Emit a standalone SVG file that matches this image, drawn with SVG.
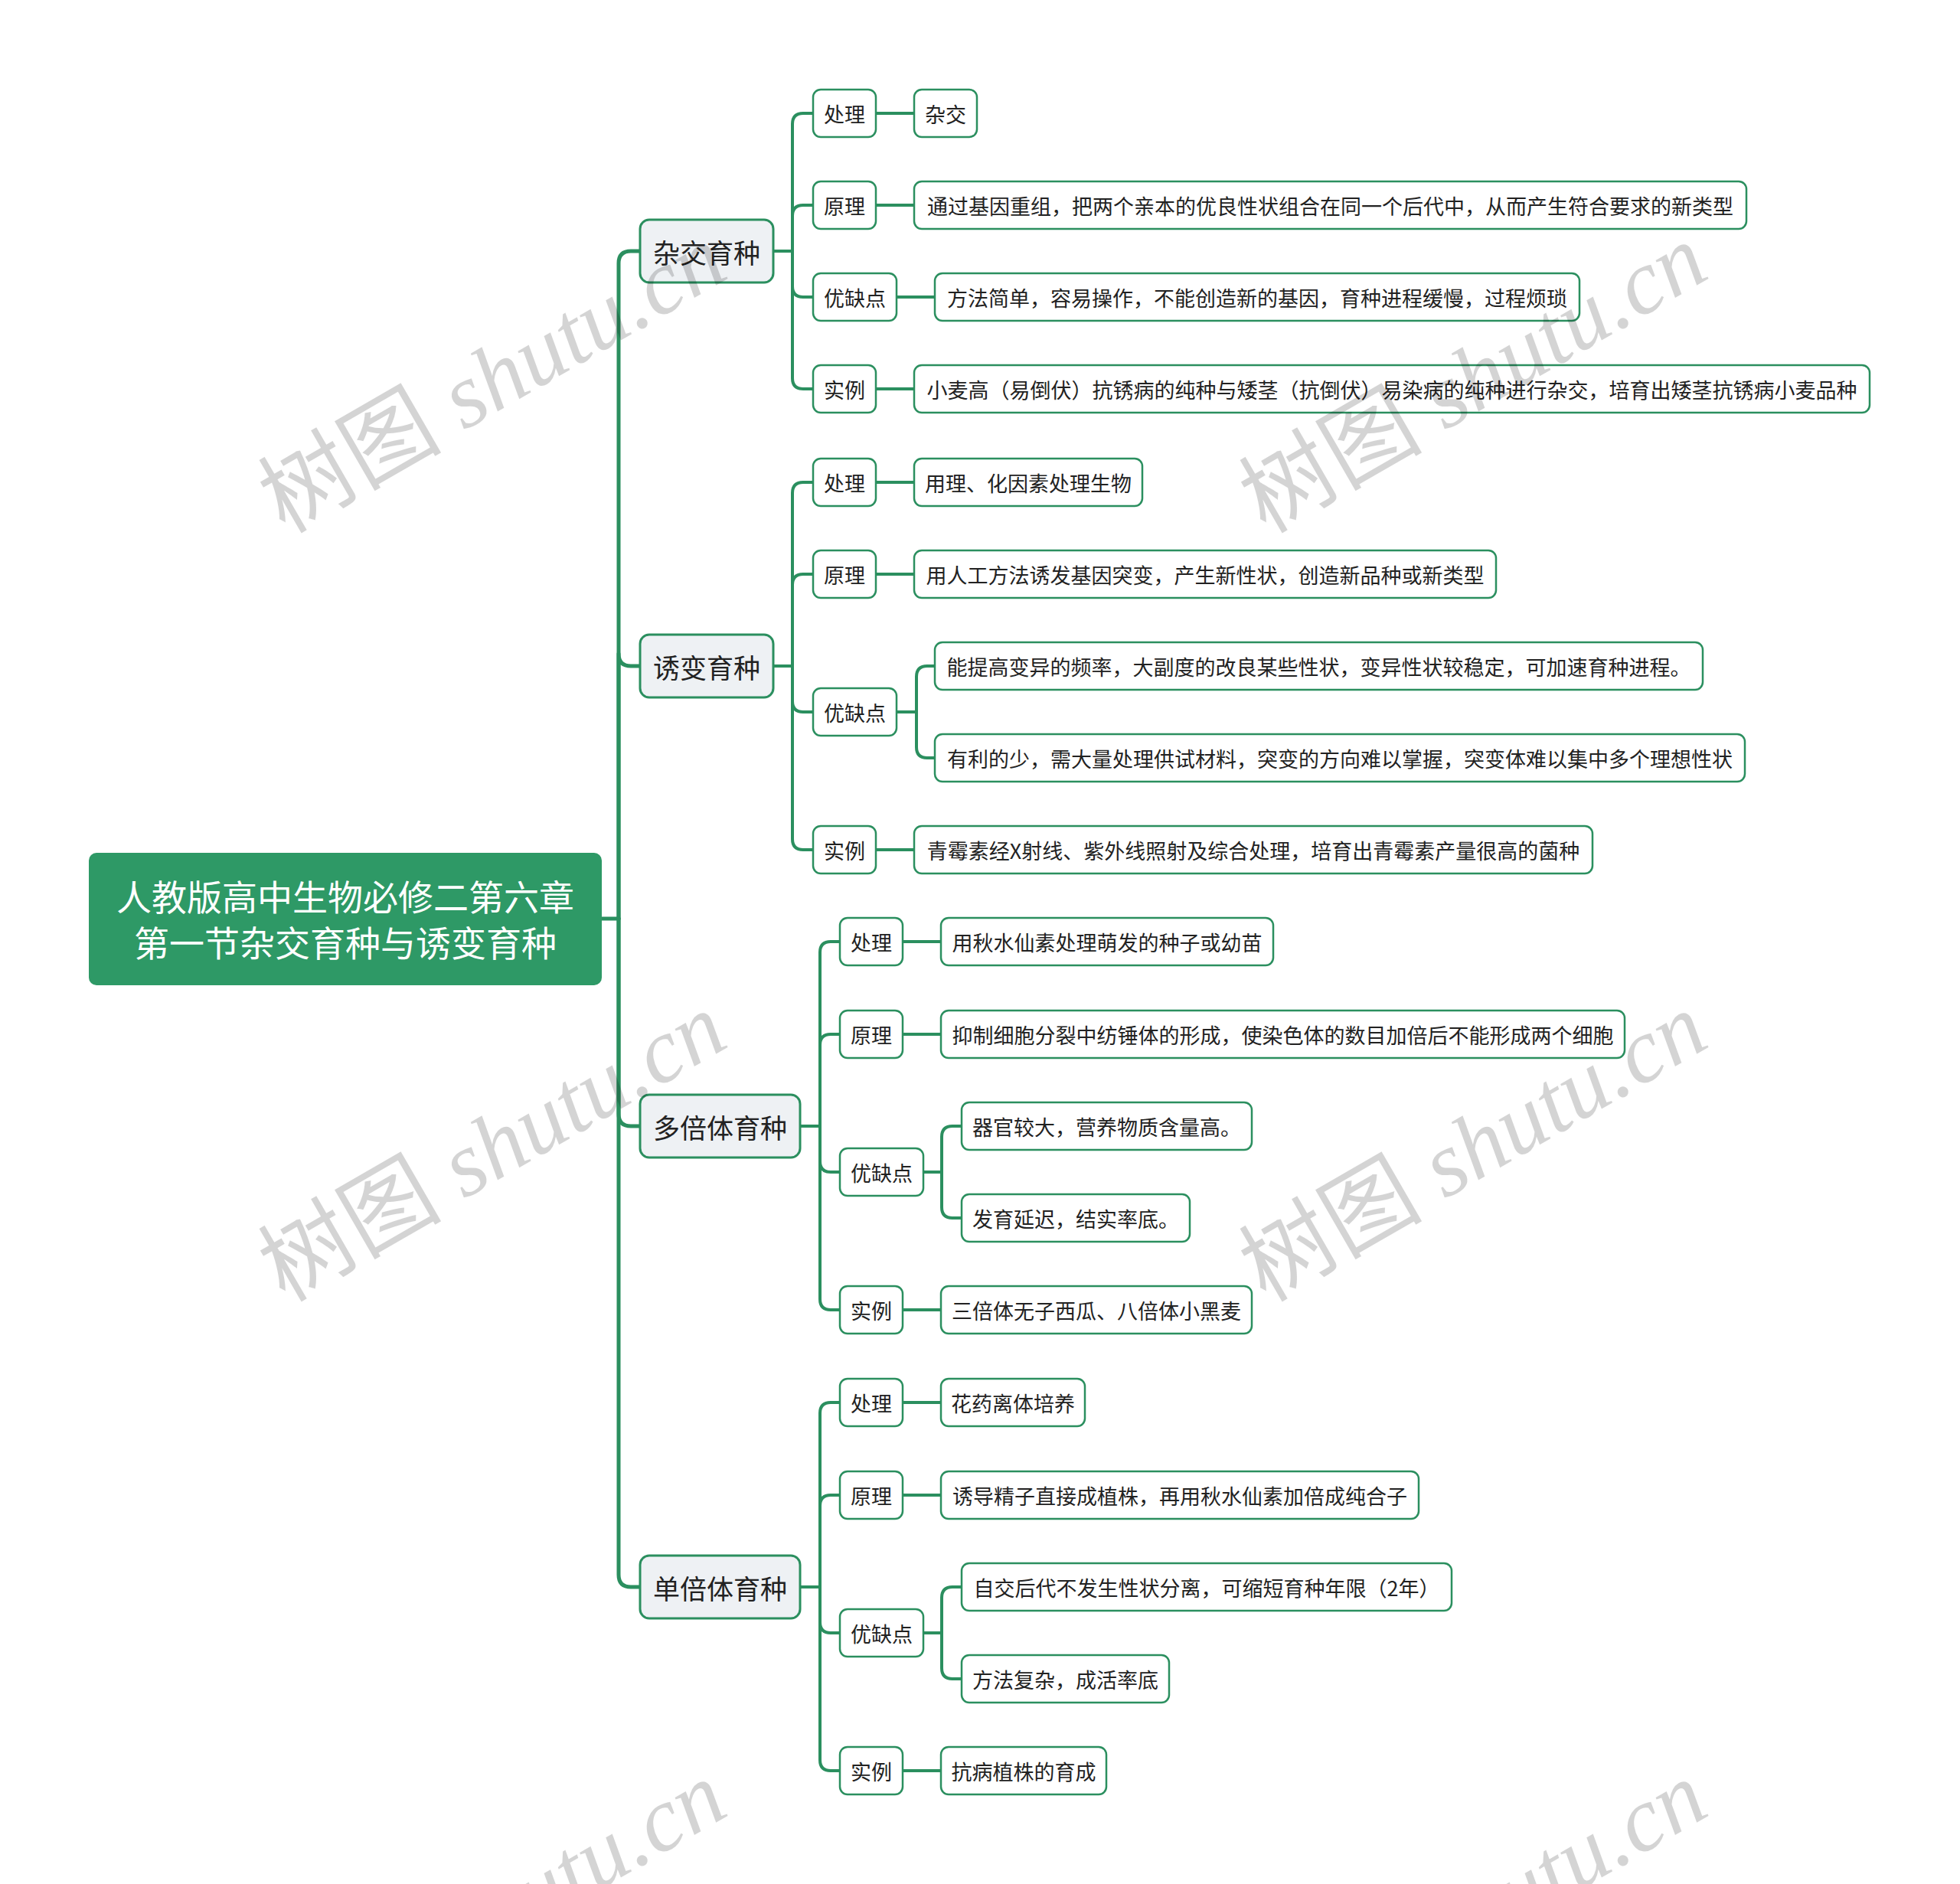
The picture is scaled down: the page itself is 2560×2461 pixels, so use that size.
<svg xmlns="http://www.w3.org/2000/svg" width="2560" height="2461" viewBox="0 0 2560 2461">
<style>
.bg{fill:#ffffff}
.conn path{fill:none;stroke:#2b8f5f;stroke-width:4;stroke-linecap:round;stroke-linejoin:round}
.conn path.trunk{stroke-width:5}
.root rect{fill:#2e9966;stroke:none}
.l1 rect{fill:#eef1f4;stroke:#2b8f5f;stroke-width:3}
.l2 rect{fill:#ffffff;stroke:#2b8f5f;stroke-width:2.5}
text{font-family:"Noto Sans CJK SC","Noto Sans",sans-serif;text-anchor:middle;dominant-baseline:central}
.root text{fill:#ffffff;font-size:46px}
.l1 text{fill:#222222;font-size:35px}
.l2 text{fill:#222222;font-size:27px}
.wm text{font-size:120px;fill:#000000;fill-opacity:0.17;text-anchor:start;dominant-baseline:alphabetic}
.wm .cjk{font-family:"Noto Sans CJK SC",serif}
.wm .lat{font-family:"Liberation Serif",serif;font-style:italic}
</style>
<rect class="bg" x="0" y="0" width="2560" height="2461"/>

<g id="connectors" class="conn">
  <path class="trunk" d="M786 1200 H808"/>
  <path class="trunk" d="M808 1200 V344 Q808 328 824 328 H836"/>
  <path class="trunk" d="M808 1200 V854 Q808 870 824 870 H836"/>
  <path class="trunk" d="M808 1200 V1455 Q808 1471 824 1471 H836"/>
  <path class="trunk" d="M808 1200 V2057 Q808 2073 824 2073 H836"/>

  <path d="M1010 328 H1035"/>
  <path d="M1035 328 V162 Q1035 148 1049 148 H1062"/>
  <path d="M1035 328 V282 Q1035 268 1049 268 H1062"/>
  <path d="M1035 328 V374 Q1035 388 1049 388 H1062"/>
  <path d="M1035 328 V494 Q1035 508 1049 508 H1062"/>
  <path d="M1144 148 H1194"/>
  <path d="M1144 268 H1194"/>
  <path d="M1171 388 H1221"/>
  <path d="M1144 508 H1194"/>

  <path d="M1010 870 H1035"/>
  <path d="M1035 870 V644 Q1035 630 1049 630 H1062"/>
  <path d="M1035 870 V764 Q1035 750 1049 750 H1062"/>
  <path d="M1035 870 V916 Q1035 930 1049 930 H1062"/>
  <path d="M1035 870 V1096 Q1035 1110 1049 1110 H1062"/>
  <path d="M1144 630 H1194"/>
  <path d="M1144 750 H1194"/>
  <path d="M1171 930 H1197"/>
  <path d="M1197 930 V884 Q1197 870 1211 870 H1221"/>
  <path d="M1197 930 V976 Q1197 990 1211 990 H1221"/>
  <path d="M1144 1110 H1194"/>

  <path d="M1045 1471 H1071"/>
  <path d="M1071 1471 V1244 Q1071 1230 1085 1230 H1097"/>
  <path d="M1071 1471 V1365 Q1071 1351 1085 1351 H1097"/>
  <path d="M1071 1471 V1517 Q1071 1531 1085 1531 H1097"/>
  <path d="M1071 1471 V1697 Q1071 1711 1085 1711 H1097"/>
  <path d="M1179 1230 H1229"/>
  <path d="M1179 1351 H1229"/>
  <path d="M1206 1531 H1230"/>
  <path d="M1230 1531 V1485 Q1230 1471 1244 1471 H1256"/>
  <path d="M1230 1531 V1577 Q1230 1591 1244 1591 H1256"/>
  <path d="M1179 1711 H1229"/>

  <path d="M1045 2073 H1071"/>
  <path d="M1071 2073 V1846 Q1071 1832 1085 1832 H1097"/>
  <path d="M1071 2073 V1967 Q1071 1953 1085 1953 H1097"/>
  <path d="M1071 2073 V2119 Q1071 2133 1085 2133 H1097"/>
  <path d="M1071 2073 V2299 Q1071 2313 1085 2313 H1097"/>
  <path d="M1179 1832 H1229"/>
  <path d="M1179 1953 H1229"/>
  <path d="M1206 2133 H1230"/>
  <path d="M1230 2133 V2087 Q1230 2073 1244 2073 H1256"/>
  <path d="M1230 2133 V2179 Q1230 2193 1244 2193 H1256"/>
  <path d="M1179 2313 H1229"/>
</g>

<g id="root" class="root">
  <rect x="116" y="1114" width="670" height="173" rx="10"/>
  <text x="451" y="1169">人教版高中生物必修二第六章</text>
  <text x="451" y="1229">第一节杂交育种与诱变育种</text>
</g>

<g id="n-zajiao" class="l1"><rect x="836" y="287" width="174" height="82" rx="12"/><text x="923" y="328">杂交育种</text></g>
<g id="n-youbian" class="l1"><rect x="836" y="829" width="174" height="82" rx="12"/><text x="923" y="870">诱变育种</text></g>
<g id="n-duobei" class="l1"><rect x="836" y="1430" width="209" height="82" rx="12"/><text x="940.5" y="1471">多倍体育种</text></g>
<g id="n-danbei" class="l1"><rect x="836" y="2032" width="209" height="82" rx="12"/><text x="940.5" y="2073">单倍体育种</text></g>

<g id="n1-chuli" class="l2"><rect x="1062" y="117" width="82" height="62" rx="10"/><text x="1103" y="148">处理</text></g>
<g id="n1-chuli-t" class="l2"><rect x="1194" y="117" width="82" height="62" rx="10"/><text x="1235" y="148">杂交</text></g>
<g id="n1-yuanli" class="l2"><rect x="1062" y="237" width="82" height="62" rx="10"/><text x="1103" y="268">原理</text></g>
<g id="n1-yuanli-t" class="l2"><rect x="1194" y="237" width="1087" height="62" rx="10"/><text x="1737.5" y="268">通过基因重组，把两个亲本的优良性状组合在同一个后代中，从而产生符合要求的新类型</text></g>
<g id="n1-youque" class="l2"><rect x="1062" y="357" width="109" height="62" rx="10"/><text x="1116.5" y="388">优缺点</text></g>
<g id="n1-youque-t" class="l2"><rect x="1221" y="357" width="842" height="62" rx="10"/><text x="1642" y="388">方法简单，容易操作，不能创造新的基因，育种进程缓慢，过程烦琐</text></g>
<g id="n1-shili" class="l2"><rect x="1062" y="477" width="82" height="62" rx="10"/><text x="1103" y="508">实例</text></g>
<g id="n1-shili-t" class="l2"><rect x="1194" y="477" width="1248" height="62" rx="10"/><text x="1818" y="508">小麦高（易倒伏）抗锈病的纯种与矮茎（抗倒伏）易染病的纯种进行杂交，培育出矮茎抗锈病小麦品种</text></g>

<g id="n2-chuli" class="l2"><rect x="1062" y="599" width="82" height="62" rx="10"/><text x="1103" y="630">处理</text></g>
<g id="n2-chuli-t" class="l2"><rect x="1194" y="599" width="298" height="62" rx="10"/><text x="1343" y="630">用理、化因素处理生物</text></g>
<g id="n2-yuanli" class="l2"><rect x="1062" y="719" width="82" height="62" rx="10"/><text x="1103" y="750">原理</text></g>
<g id="n2-yuanli-t" class="l2"><rect x="1194" y="719" width="760" height="62" rx="10"/><text x="1574" y="750">用人工方法诱发基因突变，产生新性状，创造新品种或新类型</text></g>
<g id="n2-youque" class="l2"><rect x="1062" y="899" width="109" height="62" rx="10"/><text x="1116.5" y="930">优缺点</text></g>
<g id="n2-you" class="l2"><rect x="1221" y="839" width="1003" height="62" rx="10"/><text x="1722.5" y="870">能提高变异的频率，大副度的改良某些性状，变异性状较稳定，可加速育种进程。</text></g>
<g id="n2-que" class="l2"><rect x="1221" y="959" width="1058" height="62" rx="10"/><text x="1750" y="990">有利的少，需大量处理供试材料，突变的方向难以掌握，突变体难以集中多个理想性状</text></g>
<g id="n2-shili" class="l2"><rect x="1062" y="1079" width="82" height="62" rx="10"/><text x="1103" y="1110">实例</text></g>
<g id="n2-shili-t" class="l2"><rect x="1194" y="1079" width="886" height="62" rx="10"/><text x="1637" y="1110">青霉素经X射线、紫外线照射及综合处理，培育出青霉素产量很高的菌种</text></g>

<g id="n3-chuli" class="l2"><rect x="1097" y="1199" width="82" height="62" rx="10"/><text x="1138" y="1230">处理</text></g>
<g id="n3-chuli-t" class="l2"><rect x="1229" y="1199" width="434" height="62" rx="10"/><text x="1446" y="1230">用秋水仙素处理萌发的种子或幼苗</text></g>
<g id="n3-yuanli" class="l2"><rect x="1097" y="1320" width="82" height="62" rx="10"/><text x="1138" y="1351">原理</text></g>
<g id="n3-yuanli-t" class="l2"><rect x="1229" y="1320" width="893" height="62" rx="10"/><text x="1675.5" y="1351">抑制细胞分裂中纺锤体的形成，使染色体的数目加倍后不能形成两个细胞</text></g>
<g id="n3-youque" class="l2"><rect x="1097" y="1500" width="109" height="62" rx="10"/><text x="1151.5" y="1531">优缺点</text></g>
<g id="n3-you" class="l2"><rect x="1256" y="1440" width="379" height="62" rx="10"/><text x="1445.5" y="1471">器官较大，营养物质含量高。</text></g>
<g id="n3-que" class="l2"><rect x="1256" y="1560" width="298" height="62" rx="10"/><text x="1405" y="1591">发育延迟，结实率底。</text></g>
<g id="n3-shili" class="l2"><rect x="1097" y="1680" width="82" height="62" rx="10"/><text x="1138" y="1711">实例</text></g>
<g id="n3-shili-t" class="l2"><rect x="1229" y="1680" width="406" height="62" rx="10"/><text x="1432" y="1711">三倍体无子西瓜、八倍体小黑麦</text></g>

<g id="n4-chuli" class="l2"><rect x="1097" y="1801" width="82" height="62" rx="10"/><text x="1138" y="1832">处理</text></g>
<g id="n4-chuli-t" class="l2"><rect x="1229" y="1801" width="188" height="62" rx="10"/><text x="1323" y="1832">花药离体培养</text></g>
<g id="n4-yuanli" class="l2"><rect x="1097" y="1922" width="82" height="62" rx="10"/><text x="1138" y="1953">原理</text></g>
<g id="n4-yuanli-t" class="l2"><rect x="1229" y="1922" width="624" height="62" rx="10"/><text x="1541" y="1953">诱导精子直接成植株，再用秋水仙素加倍成纯合子</text></g>
<g id="n4-youque" class="l2"><rect x="1097" y="2102" width="109" height="62" rx="10"/><text x="1151.5" y="2133">优缺点</text></g>
<g id="n4-you" class="l2"><rect x="1256" y="2042" width="640" height="62" rx="10"/><text x="1576" y="2073">自交后代不发生性状分离，可缩短育种年限（2年）</text></g>
<g id="n4-que" class="l2"><rect x="1256" y="2162" width="271" height="62" rx="10"/><text x="1391.5" y="2193">方法复杂，成活率底</text></g>
<g id="n4-shili" class="l2"><rect x="1097" y="2282" width="82" height="62" rx="10"/><text x="1138" y="2313">实例</text></g>
<g id="n4-shili-t" class="l2"><rect x="1229" y="2282" width="216" height="62" rx="10"/><text x="1337" y="2313">抗病植株的育成</text></g>

<g id="watermarks" class="wm">
  <text x="372" y="698" transform="rotate(-30 372 698)"><tspan class="cjk">树图</tspan><tspan class="lat"> shutu.cn</tspan></text>
  <text x="1653" y="698" transform="rotate(-30 1653 698)"><tspan class="cjk">树图</tspan><tspan class="lat"> shutu.cn</tspan></text>
  <text x="372" y="1702" transform="rotate(-30 372 1702)"><tspan class="cjk">树图</tspan><tspan class="lat"> shutu.cn</tspan></text>
  <text x="1653" y="1702" transform="rotate(-30 1653 1702)"><tspan class="cjk">树图</tspan><tspan class="lat"> shutu.cn</tspan></text>
  <text x="372" y="2706" transform="rotate(-30 372 2706)"><tspan class="cjk">树图</tspan><tspan class="lat"> shutu.cn</tspan></text>
  <text x="1653" y="2706" transform="rotate(-30 1653 2706)"><tspan class="cjk">树图</tspan><tspan class="lat"> shutu.cn</tspan></text>
</g>
</svg>
